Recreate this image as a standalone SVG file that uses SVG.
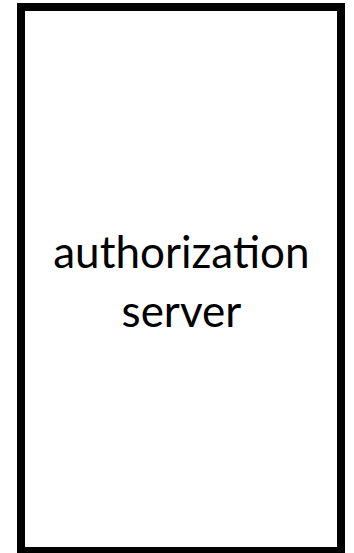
<svg xmlns="http://www.w3.org/2000/svg" width="354" height="553" viewBox="0 0 354 553">
<style>
.box{fill:#fff;stroke:#000;stroke-width:8}
.lbl{font-family:Lato,"Liberation Sans",sans-serif;font-size:44px;fill:#000;text-anchor:middle}
</style>
<rect width="354" height="553" fill="#fff"/>
<g id="authorization-server">
<rect class="box" x="21" y="7" width="320" height="544"/>
<text class="lbl" x="181.4" y="268">authorization</text>
<text class="lbl" x="181.4" y="327">server</text>
</g>
<g id="connectors"/>
</svg>
